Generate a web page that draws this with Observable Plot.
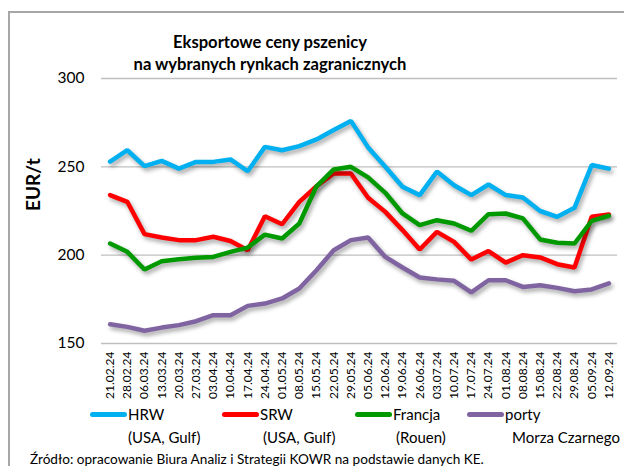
<!DOCTYPE html>
<html><head><meta charset="utf-8">
<script src="https://cdn.jsdelivr.net/npm/d3@7"></script>
<script src="https://cdn.jsdelivr.net/npm/@observablehq/plot@0.6"></script>
<style>
body{margin:0;background:#fff;font-family:Lato,"Open Sans",sans-serif;}
#wrap{position:relative;width:624px;height:466px;overflow:hidden;background:#fff;}
#frame{position:absolute;left:8px;top:11px;width:640px;height:480px;border-left:2px solid #a6a6a6;border-top:2px solid #a6a6a6;box-sizing:border-box;}
#title{position:absolute;left:110px;width:320px;top:31px;text-align:center;font-weight:bold;font-size:16.6px;line-height:22px;color:#000;}
#chart{position:absolute;left:0;top:0;}
.leg{position:absolute;font-size:15px;color:#000;line-height:18px;white-space:nowrap;}
.sw{position:absolute;height:5px;border-radius:3px;}
#src{position:absolute;left:30px;top:451px;font-size:13.6px;color:#000;white-space:nowrap;}
svg g[aria-label="line"] path{filter:drop-shadow(2px 3px 2px rgba(0,0,0,0.35));}
</style></head>
<body><div id="wrap"><div id="frame"></div><div id="chart"></div>
<div id="title">Eksportowe ceny pszenicy<br>na wybranych rynkach zagranicznych</div>
<div id="legend"></div>
<div id="src">Źródło: opracowanie Biura Analiz i Strategii KOWR na podstawie danych KE.</div>
</div>
<script>
const labels = ["21.02.24","28.02.24","06.03.24","13.03.24","20.03.24","27.03.24","03.04.24","10.04.24","17.04.24","24.04.24","01.05.24","08.05.24","15.05.24","22.05.24","29.05.24","05.06.24","12.06.24","19.06.24","26.06.24","03.07.24","10.07.24","17.07.24","24.07.24","01.08.24","08.08.24","15.08.24","22.08.24","29.08.24","05.09.24","12.09.24"];
const hrw = [253,259.4,250.4,253.4,249,252.8,252.8,254.2,247.5,261.3,259.4,261.7,265.5,270.8,276,261,250,238.7,234,247.3,239.6,234,240,234,232.6,225,221.7,226.8,251,249];
const srw = [234,230.2,211.9,210,208.5,208.5,210.4,208,202.8,222,217.5,230.2,239,246.2,246.2,232.5,224.5,214.2,203.2,213.2,207.5,197.5,202.3,195.8,200,198.7,194.9,193,221.7,223];
const francja = [206.6,201.9,191.9,196.6,197.7,198.5,199,201.9,204.3,211.6,209.4,217.9,239,248.5,250,244,235.3,223.6,217,219.8,217.9,213.8,223.2,223.6,220.8,208.9,207,206.6,219.4,222.3];
const porty = [160.9,159.4,157.2,159,160.4,162.6,166,166,171.3,172.6,175.5,181.1,191.5,202.8,208.5,210,199,193,187.4,186.3,185.5,178.9,185.8,185.8,182,183,181.5,179.6,180.6,184];
const seriesNames = ["HRW","SRW","Francja","porty"];
const seriesSub = ["(USA, Gulf)","(USA, Gulf)","(Rouen)","Morza Czarnego"];
const colors = ["#00b0f0","#ff0000","#009a00","#8064a2"];
const yTicks = [150,200,250,300];
const series = [hrw, srw, francja, porty];

const chart = Plot.plot({
  width: 624, height: 400,
  marginLeft: 101, marginRight: 7, marginTop: 78, marginBottom: 57,
  style: {fontFamily: "Lato, 'Open Sans', sans-serif", background: "transparent", color: "#000"},
  x: {type: "linear", domain: [-0.5, 29.5]},
  y: {domain: [150, 300]},
  marks: [
    Plot.gridY(yTicks, {stroke: "#bfbfbf", strokeOpacity: 1, strokeWidth: 1.3}),
    Plot.axisY({ticks: yTicks, tickSize: 0, tickPadding: 17, fontSize: 15.5, label: null}),
    Plot.axisX({ticks: d3.range(labels.length), tickFormat: i => labels[i], tickRotate: -90, tickSize: 0, tickPadding: 8, fontSize: 12, label: null}),
    Plot.text(["EUR/t"], {frameAnchor: "left", x: null, y: null, dx: -68, dy: 0, rotate: -90, fontSize: 19, fontWeight: "bold", fill: "#000"}),
    ...series.map((s, j) => Plot.lineY(s, {x: (d, i) => i, y: d => d, stroke: colors[j], strokeWidth: 4.5, strokeLinejoin: "miter"}))
  ]
});
document.getElementById("chart").appendChild(chart);

const legX = [90, 222, 355, 467];
const subX = [128, 263, 396, 512];
const leg = document.getElementById("legend");
seriesNames.forEach((n, j) => {
  const sw = document.createElement("div"); sw.className = "sw";
  sw.style.left = legX[j] + "px"; sw.style.top = "412px"; sw.style.width = "37px"; sw.style.background = colors[j];
  leg.appendChild(sw);
  const t = document.createElement("div"); t.className = "leg";
  t.style.left = (legX[j] + 38) + "px"; t.style.top = "405px"; t.textContent = n;
  leg.appendChild(t);
  const s2 = document.createElement("div"); s2.className = "leg";
  s2.style.left = subX[j] + "px"; s2.style.top = "428px"; s2.textContent = seriesSub[j];
  leg.appendChild(s2);
});
</script></body></html>
